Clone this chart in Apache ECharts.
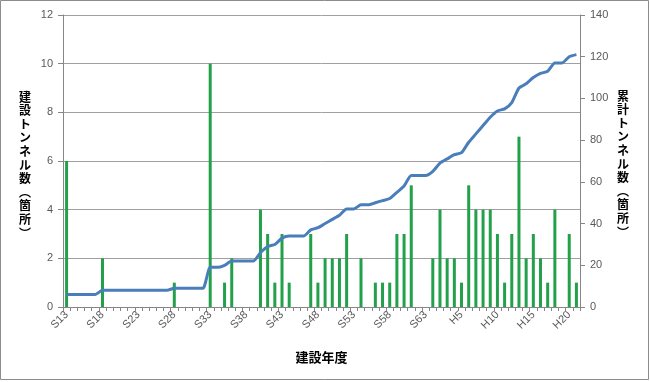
<!DOCTYPE html>
<html>
<head>
<meta charset="utf-8">
<script src="https://cdn.jsdelivr.net/npm/echarts@6/dist/echarts.min.js"></script>
<style>
html,body{margin:0;padding:0;background:#fff;}
#c{width:650px;height:382px;}
</style>
</head>
<body>
<div id="c"></div>
<script>
var categories = [
  'S13','S14','S15','S16','S17','S18','S19','S20','S21','S22',
  'S23','S24','S25','S26','S27','S28','S29','S30','S31','S32',
  'S33','S34','S35','S36','S37','S38','S39','S40','S41','S42',
  'S43','S44','S45','S46','S47','S48','S49','S50','S51','S52',
  'S53','S54','S55','S56','S57','S58','S59','S60','S61','S62',
  'S63','H1','H2','H3','H4','H5','H6','H7','H8','H9',
  'H10','H11','H12','H13','H14','H15','H16','H17','H18','H19',
  'H20','H21'
];
var annualCount = [
  6,0,0,0,0,2,0,0,0,0,
  0,0,0,0,0,1,0,0,0,0,
  10,0,1,2,0,0,0,4,3,1,
  3,1,0,0,3,1,2,2,2,3,
  0,2,0,1,1,1,3,3,5,0,
  0,2,4,2,2,1,5,4,4,4,
  3,1,3,7,2,3,2,1,4,0,
  3,1
];
var cumulativeCount = [
  6,6,6,6,6,8,8,8,8,8,
  8,8,8,8,8,9,9,9,9,9,
  19,19,20,22,22,22,22,26,29,30,
  33,34,34,34,37,38,40,42,44,47,
  47,49,49,50,51,52,55,58,63,63,
  63,65,69,71,73,74,79,83,87,91,
  94,95,98,105,107,110,112,113,117,117,
  120,121
];
var leftTicks = [0,2,4,6,8,10,12];
var rightTicks = [0,20,40,60,80,100,120,140];
var leftTitle = ['建','設','ト','ン','ネ','ル','数','︵','箇','所','︶'];
var rightTitle = ['累','計','ト','ン','ネ','ル','数','︵','箇','所','︶'];
var xTitle = '建設年度';

var chart = echarts.init(document.getElementById('c'));
var GRID = {left:63,right:70,top:15,bottom:75};

chart.setOption({
  animation:false,
  backgroundColor:'#fff',
  grid:{left:GRID.left,right:GRID.right,top:GRID.top,bottom:GRID.bottom,containLabel:false},
  xAxis:{
    type:'category',
    data:categories,
    boundaryGap:true,
    name:xTitle,
    nameLocation:'middle',
    nameGap:44,
    nameTextStyle:{fontFamily:'Noto Sans CJK JP', fontSize:13, fontWeight:'bold', color:'#000'},
    axisLine:{lineStyle:{color:'#868686',width:1}},
    axisTick:{show:true,interval:0,length:4,lineStyle:{color:'#868686'}},
    axisLabel:{
      show:true,
      interval:4,
      rotate:45,
      margin:6,
      hideOverlap:false,
      fontFamily:'Liberation Sans',
      fontSize:11,
      color:'#595959'
    },
    splitLine:{show:false}
  },
  yAxis:[{
    type:'value', min:leftTicks[0], max:leftTicks[leftTicks.length-1], interval:2,
    position:'left',
    axisLine:{show:true,lineStyle:{color:'#868686'}},
    axisTick:{show:true,length:5,lineStyle:{color:'#868686'}},
    axisLabel:{fontFamily:'Liberation Sans', fontSize:11, color:'#595959', margin:10},
    splitLine:{show:true,lineStyle:{color:'#a0a0a0',width:1}}
  },{
    type:'value', min:rightTicks[0], max:rightTicks[rightTicks.length-1], interval:20,
    position:'right',
    axisLine:{show:true,lineStyle:{color:'#868686'}},
    axisTick:{show:true,length:5,lineStyle:{color:'#868686'}},
    axisLabel:{fontFamily:'Liberation Sans', fontSize:11, color:'#595959', margin:10},
    splitLine:{show:false}
  }],
  series:[{
    name:'建設トンネル数',
    type:'bar',
    yAxisIndex:0,
    data:annualCount,
    barWidth:3,
    itemStyle:{color:'#22a04a'}
  },{
    name:'累計トンネル数',
    type:'line',
    yAxisIndex:1,
    data:cumulativeCount,
    symbol:'none',
    smooth:0.2,
    lineStyle:{color:'#4a7ebb',width:3},
    z:3
  }]
});

var g = [{
  type:'rect', id:'border', silent:true, z:-1,
  shape:{x:0.5,y:0.5,width:648,height:379},
  style:{fill:'none',stroke:'#8c8c8c',lineWidth:1}
}];
function vTitle(chars, cx, cy, idp){
  var pitch = 13.6;
  var y0 = cy - pitch*(chars.length-1)/2;
  chars.forEach(function(ch, i){
    g.push({
      type:'text', id:idp+i, silent:true,
      x:cx, y:y0 + i*pitch,
      style:{text:ch, align:'center', verticalAlign:'middle',
        fontFamily:'Noto Sans CJK JP', fontSize:12, fontWeight:'bold', fill:'#000'}
    });
  });
}
vTitle(leftTitle, 25, 165, 'lt');
vTitle(rightTitle, 623, 164, 'rt');
chart.setOption({graphic:g});
</script>
</body>
</html>
